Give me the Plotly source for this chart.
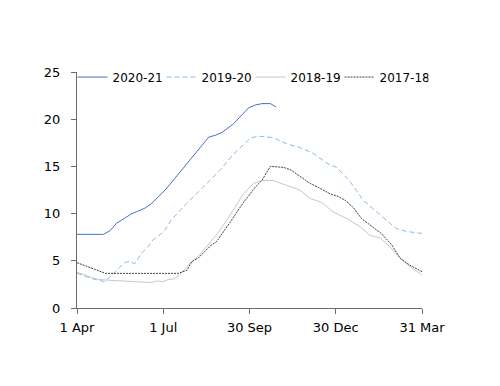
import plotly.graph_objects as go

# x = days since 1 Apr
tick_days = [0, 91, 182, 273, 364]
tick_labels = ["1 Apr", "1 Jul", "30 Sep", "30 Dec", "31 Mar"]
y_ticks = [0, 5, 10, 15, 20, 25]

days_2020 = [0, 28, 35, 42, 50, 58, 63, 72, 79, 86, 93, 103, 112, 121, 130, 139, 146, 153, 165, 175, 181, 188, 195, 204, 210]
vals_2020 = [7.8, 7.8, 8.2, 9.0, 9.5, 10.0, 10.2, 10.6, 11.1, 11.8, 12.5, 13.7, 14.8, 15.8, 16.9, 18.1, 18.3, 18.6, 19.5, 20.5, 21.2, 21.5, 21.65, 21.65, 21.3]

days_2019 = [0, 10, 20, 29, 35, 42, 50, 55, 61, 68, 75, 80, 88, 93, 100, 116, 130, 144, 151, 165, 175, 183, 191, 200, 207, 221, 235, 249, 260, 266, 274, 288, 302, 316, 330, 337, 348, 364]
vals_2019 = [3.7, 3.3, 3.0, 2.8, 3.3, 4.0, 4.8, 4.95, 4.7, 5.8, 6.5, 7.2, 7.8, 8.3, 9.4, 11.1, 12.5, 13.8, 14.6, 16.3, 17.3, 18.0, 18.2, 18.1, 18.05, 17.4, 17.0, 16.4, 15.6, 15.2, 14.9, 13.4, 11.4, 10.2, 9.0, 8.4, 8.1, 7.9]

days_2018 = [0, 19, 30, 51, 68, 79, 84, 91, 96, 103, 110, 119, 131, 142, 151, 165, 175, 186, 195, 207, 221, 235, 246, 258, 270, 284, 299, 309, 320, 330, 341, 351, 364]
vals_2018 = [3.8, 3.1, 2.96, 2.86, 2.8, 2.7, 2.86, 2.8, 3.0, 3.1, 3.7, 4.7, 5.8, 7.2, 8.25, 10.4, 12.0, 13.2, 13.5, 13.5, 13.0, 12.5, 11.6, 11.2, 10.2, 9.5, 8.6, 7.7, 7.4, 6.5, 5.3, 4.4, 3.5]

days_2017 = [0, 30, 107, 116, 121, 128, 142, 147, 161, 175, 188, 195, 204, 218, 226, 246, 256, 267, 276, 283, 291, 300, 309, 321, 332, 341, 351, 364]
vals_2017 = [4.8, 3.67, 3.67, 4.0, 4.9, 5.3, 6.7, 7.0, 9.0, 11.1, 12.8, 13.5, 15.0, 14.9, 14.6, 13.2, 12.7, 12.1, 11.8, 11.4, 10.7, 9.5, 8.8, 7.9, 6.7, 5.26, 4.55, 3.85]

fig = go.Figure()
fig.add_trace(go.Scatter(x=days_2020, y=vals_2020, mode="lines", name="2020-21",
                         line=dict(color="#4472C4", width=1)))
fig.add_trace(go.Scatter(x=days_2019, y=vals_2019, mode="lines", name="2019-20",
                         line=dict(color="#8DB8EC", width=1, dash="5px,3px")))
fig.add_trace(go.Scatter(x=days_2018, y=vals_2018, mode="lines", name="2018-19",
                         line=dict(color="#C8C8C8", width=1)))
fig.add_trace(go.Scatter(x=days_2017, y=vals_2017, mode="lines", name="2017-18",
                         line=dict(color="#404040", width=1, dash="2px,1px")))

# page body has an 8px default margin, so the figure is sized 492x378
fig.update_layout(
    width=492, height=378,
    margin=dict(l=69, r=78, t=64, b=78, autoexpand=False),
    paper_bgcolor="white", plot_bgcolor="white",
    font=dict(family="DejaVu Sans", size=13, color="#000000"),
    showlegend=True,
    legend=dict(orientation="h", x=-0.013, y=1.04, xanchor="left", yanchor="top",
                font=dict(size=12), entrywidth=44, tracegroupgap=0,
                bgcolor="rgba(0,0,0,0)"),
    xaxis=dict(range=[0, 364], tickvals=tick_days, ticktext=tick_labels,
               showgrid=False, zeroline=False, showline=True, linecolor="#6b6b6b",
               linewidth=1, ticks="outside", ticklen=5, tickcolor="#6b6b6b",
               ticklabelstandoff=2),
    yaxis=dict(range=[0, 25], tickvals=y_ticks,
               showgrid=False, zeroline=False, showline=True, linecolor="#6b6b6b",
               linewidth=1, ticks="outside", ticklen=5, tickcolor="#6b6b6b",
               ticklabelstandoff=8),
)

fig.write_html("out.html")
